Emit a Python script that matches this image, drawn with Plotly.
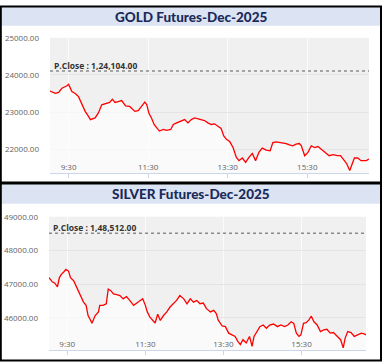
import plotly.graph_objects as go

# ---------------- data ----------------
trade_date = "2025-11-04"

gold_title = "GOLD Futures-Dec-2025"
gold_pclose = 24104
gold_pclose_label = "P.Close : 1,24,104.00"
gold_yticks = [22000, 23000, 24000, 25000]
gold_yrange = [21344, 25001]
gold_times = ["09:02", "09:10", "09:15", "09:20", "09:27", "09:30", "09:35", "09:40", "09:45", "09:50",
              "09:55", "10:00", "10:03", "10:10", "10:15", "10:20", "10:27", "10:32", "10:36", "10:40",
              "10:45", "10:50", "10:56", "11:02", "11:10", "11:15", "11:20", "11:25", "11:28", "11:31",
              "11:35", "11:39", "11:43", "11:47", "11:53", "11:58", "12:04", "12:08", "12:13", "12:20",
              "12:25", "12:30", "12:35", "12:40", "12:48", "12:55", "13:00", "13:05", "13:10", "13:15",
              "13:20", "13:24", "13:28", "13:33", "13:38", "13:43", "13:47", "13:52", "13:57", "14:02",
              "14:07", "14:12", "14:17", "14:22", "14:28", "14:34", "14:38", "14:43", "14:51", "14:58",
              "15:03", "15:08", "15:13", "15:18", "15:21", "15:26", "15:31", "15:36", "15:41", "15:46",
              "15:51", "15:58", "16:03", "16:09", "16:15", "16:20", "16:24", "16:29", "16:34", "16:38",
              "16:41", "16:46", "16:51", "16:59", "17:03"]
gold_price = [23566, 23505, 23530, 23640, 23700, 23745, 23550, 23500, 23415, 23195,
              23018, 22885, 22795, 22840, 22975, 23195, 23220, 23257, 23345, 23257,
              23283, 23310, 23168, 23150, 23017, 23035, 23150, 23265, 23195, 22973,
              22840, 22664, 22575, 22487, 22530, 22505, 22530, 22664, 22708, 22752,
              22796, 22708, 22796, 22840, 22796, 22770, 22708, 22664, 22682, 22620,
              22557, 22354, 22265, 22204, 22044, 21779, 21690, 21761, 21646, 21779,
              21885, 21690, 21912, 22027, 21973, 21955, 22177, 22195, 22177, 22150,
              22115, 22090, 22133, 22150, 22090, 21823, 21912, 22090, 22044, 22070,
              22000, 21885, 21823, 21850, 21823, 21823, 21735, 21620, 21425, 21600,
              21761, 21761, 21690, 21690, 21735]

silver_title = "SILVER Futures-Dec-2025"
silver_pclose = 48512
silver_pclose_label = "P.Close : 1,48,512.00"
silver_yticks = [46000, 47000, 48000, 49000]
silver_yrange = [45038, 49001]
silver_times = ["09:02", "09:04", "09:07", "09:11", "09:15", "09:18", "09:21", "09:25", "09:28", "09:32",
                "09:35", "09:40", "09:45", "09:50", "09:55", "09:59", "10:02", "10:06", "10:08", "10:13",
                "10:18", "10:20", "10:25", "10:30", "10:33", "10:37", "10:41", "10:46", "10:51", "10:56",
                "11:01", "11:06", "11:12", "11:17", "11:22", "11:26", "11:30", "11:33", "11:37", "11:41",
                "11:45", "11:49", "11:53", "11:58", "12:03", "12:08", "12:13", "12:18", "12:23", "12:29",
                "12:34", "12:39", "12:44", "12:49", "12:54", "12:59", "13:04", "13:10", "13:15", "13:19",
                "13:22", "13:28", "13:33", "13:38", "13:43", "13:48", "13:52", "13:56", "14:00", "14:05",
                "14:10", "14:14", "14:17", "14:21", "14:26", "14:31", "14:36", "14:41", "14:47", "14:53",
                "14:58", "15:04", "15:09", "15:14", "15:18", "15:22", "15:26", "15:29", "15:33", "15:37",
                "15:41", "15:45", "15:49", "15:54", "15:59", "16:04", "16:09", "16:14", "16:19", "16:25",
                "16:30", "16:34", "16:37", "16:41", "16:46", "16:51", "16:56", "17:02", "17:06", "17:09"]
silver_price = [47194, 47146, 47068, 47029, 46922, 47194, 47291, 47369, 47437, 47388,
                47194, 47097, 46903, 46660, 46466, 46369, 46068, 45922, 45835, 46068,
                46175, 46369, 46369, 46417, 46854, 46806, 46709, 46689, 46660, 46563,
                46631, 46515, 46369, 46437, 46515, 46563, 46369, 46175, 46019, 45922,
                45845, 46107, 45922, 46068, 46175, 46320, 46417, 46515, 46660, 46563,
                46417, 46563, 46466, 46515, 46417, 46437, 46272, 46175, 46223, 46126,
                45932, 45757, 45738, 45544, 45495, 45447, 45301, 45204, 45350, 45252,
                45447, 45155, 45447, 45592, 45738, 45786, 45689, 45786, 45815, 45738,
                45786, 45738, 45786, 45883, 45835, 45544, 45447, 45495, 45835, 45854,
                45932, 46048, 45883, 45786, 45592, 45641, 45660, 45544, 45563, 45447,
                45350, 45107, 45398, 45592, 45563, 45447, 45495, 45544, 45524, 45495]

x_tick_times = ["09:30", "11:30", "13:30", "15:30"]

# ---------------- figure ----------------
W, H = 383, 362


def px(x):
    return x / W


def py(y):
    return 1 - y / H


def stamp(t):
    return f"{trade_date} {t}"


gx = [stamp(t) for t in gold_times]
sx = [stamp(t) for t in silver_times]
tickv = [stamp(t) for t in x_tick_times]

fig = go.Figure()
line_style = dict(color="#ff0000", width=1.3)
fig.add_trace(go.Scatter(x=gx, y=gold_price, mode="lines", line=line_style,
                         fill="tozeroy", fillcolor="rgba(255,255,255,0.65)",
                         xaxis="x", yaxis="y", hoverinfo="skip", showlegend=False))
fig.add_trace(go.Scatter(x=sx, y=silver_price, mode="lines", line=line_style,
                         fill="tozeroy", fillcolor="rgba(255,255,255,0.65)",
                         xaxis="x2", yaxis="y2", hoverinfo="skip", showlegend=False))

tick_font = dict(family="Open Sans", size=8, color="#5f5f5f")


def xaxis_cfg(domain, anchor, rng):
    return dict(domain=domain, anchor=anchor, type="date", range=rng,
                tickvals=tickv, tickformat="%-H:%M", ticklabelposition="inside",
                ticks="outside", ticklen=4, tickcolor="#ccd6eb",
                showline=True, linecolor="#ccd6eb", linewidth=1,
                showgrid=True, gridcolor="#fbfbfb", gridwidth=1,
                zeroline=False, tickfont=tick_font, fixedrange=True)


def yaxis_cfg(domain, anchor, rng, ticks):
    return dict(domain=domain, anchor=anchor, range=rng, tickvals=ticks,
                tickformat=".2f", showgrid=True, gridcolor="#e4e4e4", gridwidth=1,
                zeroline=False, showline=False, ticks="", ticklabelstandoff=10,
                tickfont=tick_font, fixedrange=True)


fig.update_layout(
    width=W, height=H, margin=dict(l=0, r=0, t=0, b=0),
    paper_bgcolor="white", plot_bgcolor="#f0f0f0",
    xaxis=xaxis_cfg([px(50), px(369)], "y", [gx[0], gx[-1]]),
    yaxis=yaxis_cfg([py(170.3), py(32.3)], "x", gold_yrange, gold_yticks),
    xaxis2=xaxis_cfg([px(49), px(366)], "y2", [sx[0], sx[-1]]),
    yaxis2=yaxis_cfg([py(350), py(214.3)], "x2", silver_yrange, silver_yticks),
    showlegend=False,
)

shapes = []
# title bars
for top in (0, 181):
    shapes.append(dict(type="rect", xref="paper", yref="paper",
                       x0=px(1), x1=px(380), y0=py(top + 20), y1=py(top),
                       fillcolor="#dce4f3", line=dict(width=0), layer="below"))
# previous close dotted lines
for xr, yr, val in (("x domain", "y", gold_pclose), ("x2 domain", "y2", silver_pclose)):
    shapes.append(dict(type="line", xref=xr, yref=yr, x0=0, x1=1, y0=val, y1=val,
                       line=dict(color="#8a8a8a", width=1.5, dash="dot")))
# panel borders
for top, bot in ((0.5, 179.5), (180.5, 360.5)):
    shapes.append(dict(type="rect", xref="paper", yref="paper",
                       x0=px(0.8), x1=px(381), y0=py(bot), y1=py(top),
                       line=dict(color="black", width=2), fillcolor="rgba(0,0,0,0)"))
fig.update_layout(shapes=shapes)

title_font = dict(family="Lato", size=13.5, color="#1a2a5a", weight=900)
ann = [
    dict(text=gold_title, xref="paper", yref="paper", x=px(190.5), y=py(11),
         xanchor="center", yanchor="middle", showarrow=False, font=title_font),
    dict(text=silver_title, xref="paper", yref="paper", x=px(191), y=py(191.5),
         xanchor="center", yanchor="middle", showarrow=False, font=title_font),
]
pc_font = dict(family="Open Sans", size=8.5, color="#333333")
for xr, yr, val, lab in (("x domain", "y", gold_pclose, gold_pclose_label),
                         ("x2 domain", "y2", silver_pclose, silver_pclose_label)):
    ann.append(dict(text=f"<b>{lab}</b>", xref=xr, yref=yr, x=0, y=val, xanchor="left",
                    yanchor="bottom", xshift=2, yshift=-2, showarrow=False, font=pc_font))
fig.update_layout(annotations=ann)

fig.write_html("out.html", config={"displayModeBar": False},
               post_script=["document.body.style.margin='0';document.body.style.overflow='hidden';"])
